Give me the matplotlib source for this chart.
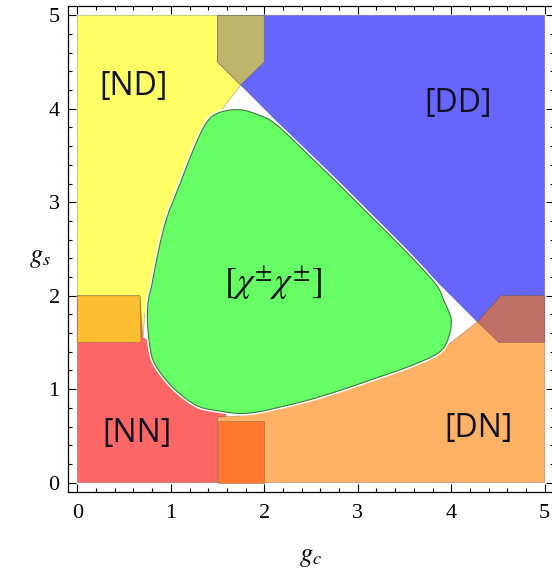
import matplotlib.pyplot as plt
from matplotlib.patches import Polygon, PathPatch
from matplotlib.path import Path
from matplotlib.ticker import MultipleLocator
import numpy as np

plt.rcParams["mathtext.fontset"] = "stix"

# ---- region outlines (g_c, g_s) ----
# [ND] yellow
nd_x = [0.0, 0.0, 2.0, 2.0, 1.747, 1.57, 1.50, 1.43, 1.5, 1.2, 0.72, 0.70]
nd_y = [1.5, 5.0, 5.0, 4.5, 4.255, 4.02, 3.88, 3.74, 3.0, 2.0, 1.80, 1.5]
# [DD] blue
dd_x = [1.5, 5.0, 5.0, 4.51, 4.28, 1.747, 1.5]
dd_y = [5.0, 5.0, 1.5, 1.5, 1.72, 4.255, 4.5]
# [NN] red
nn_x = [0.0, 2.0, 2.0, 1.6, 1.3, 0.7, 0.67, 0.0]
nn_y = [0.0, 0.0, 0.66, 0.70, 1.3, 1.55, 2.0, 2.0]
# [DN] orange
dn_x = [1.5, 5.0, 5.0, 4.53, 4.28, 4.0, 3.68, 3.0, 1.8, 1.8, 1.5]
dn_y = [0.0, 0.0, 2.0, 2.0, 1.72, 1.50, 1.31, 1.5, 1.0, 0.72, 0.70]

# overlap pieces
ov_top_x = [1.5, 2.0, 2.0, 1.747, 1.5]
ov_top_y = [5.0, 5.0, 4.5, 4.255, 4.5]
ov_right_x = [5.0, 4.53, 4.28, 4.51, 5.0]
ov_right_y = [2.0, 2.0, 1.72, 1.5, 1.5]
ov_left_x = [0.0, 0.0, 0.67, 0.68]
ov_left_y = [1.5, 2.0, 2.0, 1.5]
ov_bottom_x = [1.5, 1.5, 2.0, 2.0]
ov_bottom_y = [0.0, 0.66, 0.66, 0.0]

# [chi chi] green
chi_x = [1.74, 1.52, 1.38, 1.24, 1.10, 0.96, 0.87, 0.80, 0.76, 0.75, 0.77, 0.81,
         0.90, 1.02, 1.16, 1.31, 1.50, 1.74, 1.95, 2.13, 2.46, 2.82, 3.17, 3.54,
         3.85, 3.96, 4.00, 3.92, 3.83, 3.50, 3.16, 2.84, 2.48, 2.13, 1.95]
chi_y = [3.99, 3.96, 3.85, 3.56, 3.20, 2.84, 2.49, 2.13, 1.95, 1.74, 1.50, 1.31,
         1.16, 1.02, 0.90, 0.81, 0.77, 0.74, 0.76, 0.80, 0.88, 0.99, 1.11, 1.24,
         1.38, 1.52, 1.74, 1.95, 2.13, 2.49, 2.83, 3.15, 3.50, 3.83, 3.93]

labels = ["[ND]", "[DD]", "[NN]", "[DN]"]
label_x = [0.60, 4.07, 0.64, 4.29]
label_y = [4.24, 4.06, 0.53, 0.58]

fig = plt.figure(figsize=(5.52, 5.79), dpi=100)
ax = fig.add_axes([68 / 552, 87 / 579, 486 / 552, 486 / 579])

edge = (0.25, 0.25, 0.25, 0.35)


def region(xs, ys, color, z):
    ax.add_patch(Polygon(np.column_stack([xs, ys]), closed=True, facecolor=color,
                         edgecolor=edge, linewidth=0.6, zorder=z))


def smooth_closed(xs, ys):
    # closed bezier path through the read points (catmull-rom handles)
    p = np.column_stack([xs, ys])
    n = len(p)
    verts = [p[0]]
    codes = [Path.MOVETO]
    for i in range(n):
        p0, p1, p2, p3 = p[i - 1], p[i], p[(i + 1) % n], p[(i + 2) % n]
        verts += [p1 + (p2 - p0) / 6, p2 - (p3 - p1) / 6, p2]
        codes += [Path.CURVE4] * 3
    return Path(verts, codes)


region(nd_x, nd_y, "#FFFF66", 1)
region(dd_x, dd_y, "#6666FF", 1)
region(nn_x, nn_y, "#FF6666", 1)
region(dn_x, dn_y, "#FFB266", 1)
region(ov_top_x, ov_top_y, "#BDB56B", 2)
region(ov_right_x, ov_right_y, "#BF6F66", 2)
region(ov_left_x, ov_left_y, "#FFBF33", 2)
region(ov_bottom_x, ov_bottom_y, "#FF7A2E", 2)

chi_path = smooth_closed(chi_x, chi_y)
ax.add_patch(PathPatch(chi_path, facecolor="#66FF66", edgecolor="white",
                       linewidth=3, zorder=3))
ax.add_patch(PathPatch(chi_path, facecolor="#66FF66", edgecolor="#3C7A3C",
                       linewidth=0.8, zorder=4))

for t, x, y in zip(labels, label_x, label_y):
    ax.text(x, y, t, fontsize=23, family="Open Sans", color="#111122",
            ha="center", va="center", zorder=5)
ax.text(2.10, 2.13, r"$[\chi^{\pm}\chi^{\pm}]$", fontsize=26, color="#111111",
        ha="center", va="center", zorder=5)

ax.set_xlim(-0.1, 5.1)
ax.set_ylim(-0.1, 5.1)
ax.xaxis.set_major_locator(MultipleLocator(1))
ax.yaxis.set_major_locator(MultipleLocator(1))
ax.xaxis.set_minor_locator(MultipleLocator(0.2))
ax.yaxis.set_minor_locator(MultipleLocator(0.2))
ax.tick_params(which="both", direction="in", top=True, right=True, width=0.8,
               labelsize=16, pad=6)
ax.tick_params(which="major", length=6)
ax.tick_params(which="minor", length=3)
for lab in ax.get_xticklabels() + ax.get_yticklabels():
    lab.set_family("Liberation Serif")
ax.tick_params(axis="x", pad=9)
for s in ax.spines.values():
    s.set_linewidth(0.9)

ax.set_xlabel(r"$g_c$", fontsize=19, va="center", ha="center")
ax.set_ylabel(r"$g_s$", fontsize=19, rotation=0, va="center", ha="center")
ax.xaxis.set_label_coords(0.498, -0.132)
ax.yaxis.set_label_coords(-0.058, 0.483)

fig.savefig("out.png", dpi=100)
